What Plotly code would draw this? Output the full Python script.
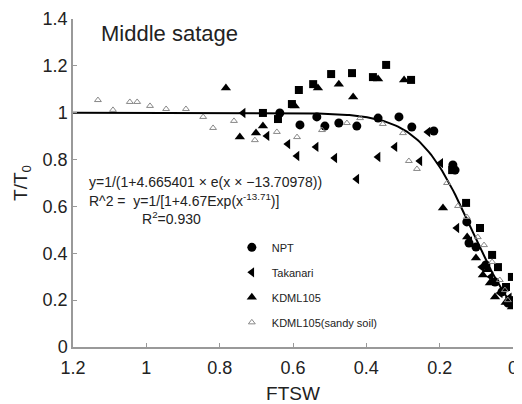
import numpy as np
import plotly.graph_objects as go

# fitted curve coefficients shown on the chart
fit_a = 4.665401
fit_b = -13.70978

# NPT (filled circles)
npt_x = [0.636, 0.581, 0.535, 0.513, 0.475, 0.426, 0.368, 0.311, 0.276, 0.216,
         0.164, 0.158, 0.126, 0.120, 0.101, 0.074, 0.049, 0.030, 0.014]
npt_y = [0.999, 0.948, 0.982, 0.943, 0.956, 0.943, 0.977, 0.982, 0.939, 0.922,
         0.777, 0.755, 0.534, 0.444, 0.427, 0.350, 0.277, 0.235, 0.188]

# Takanari (left triangles)
tak_x = [0.736, 0.671, 0.614, 0.589, 0.537, 0.486, 0.426, 0.368, 0.322, 0.254,
         0.232, 0.197, 0.153, 0.118, 0.085, 0.060, 0.035, 0.010]
tak_y = [0.999, 0.901, 0.866, 0.815, 0.854, 0.807, 0.717, 0.811, 0.854, 0.794,
         0.918, 0.785, 0.508, 0.450, 0.341, 0.300, 0.230, 0.210]

# KDML105 (filled triangles)
kdml_x = [0.783, 0.745, 0.701, 0.682, 0.595, 0.532, 0.475, 0.436, 0.368, 0.297,
          0.191, 0.125, 0.101, 0.082, 0.070, 0.063, 0.049, 0.020, 0.003]
kdml_y = [1.105, 0.896, 0.913, 0.943, 1.029, 1.105, 1.122, 1.067, 1.144, 1.140,
          0.593, 0.470, 0.380, 0.307, 0.330, 0.273, 0.213, 0.190, 0.171]

# KDML105 sandy soil (open triangles)
sandy_x = [1.132, 1.091, 1.045, 1.025, 0.990, 0.946, 0.892, 0.845, 0.818, 0.761,
           0.704, 0.644, 0.589, 0.521, 0.453, 0.417, 0.355, 0.300, 0.284, 0.262,
           0.180, 0.150, 0.126, 0.096, 0.079, 0.057, 0.036, 0.022, 0.014]
sandy_y = [1.054, 1.012, 1.046, 1.046, 1.029, 1.016, 1.016, 0.982, 0.935, 0.965,
           0.883, 0.918, 0.896, 0.926, 0.956, 0.977, 0.952, 0.913, 0.794, 0.760,
           0.700, 0.602, 0.555, 0.469, 0.435, 0.363, 0.286, 0.243, 0.200]

# squares (not in legend)
sq_x = [0.682, 0.641, 0.603, 0.584, 0.545, 0.496, 0.439, 0.382, 0.346, 0.278,
        0.166, 0.128, 0.090, 0.057, 0.041, 0.019, 0.003, 0.000]
sq_y = [0.999, 0.973, 1.037, 1.097, 1.122, 1.165, 1.169, 1.152, 1.204, 1.140,
        0.755, 0.615, 0.508, 0.393, 0.341, 0.256, 0.299, 0.200]

xtick_vals = [1.2, 1.0, 0.8, 0.6, 0.4, 0.2, 0.0]
xtick_text = ['1.2', '1', '0.8', '0.6', '0.4', '0.2', '0']
ytick_vals = [0, 0.2, 0.4, 0.6, 0.8, 1.0, 1.2, 1.4]
ytick_text = ['0', '0.2', '0.4', '0.6', '0.8', '1', '1.2', '1.4']

fx = np.linspace(1.2, 0, 200)
fy = 1 / (1 + fit_a * np.exp(fx * fit_b))

fig = go.Figure()
fig.add_trace(go.Scatter(x=fx, y=fy, mode='lines', line=dict(color='black', width=2),
                         showlegend=False, hoverinfo='skip'))
fig.add_trace(go.Scatter(x=sq_x, y=sq_y, mode='markers', name='square',
                         marker=dict(symbol='square', size=8, color='black'), showlegend=False))
fig.add_trace(go.Scatter(x=npt_x, y=npt_y, mode='markers', name='NPT', legendgroup='a',
                         marker=dict(symbol='circle', size=9, color='black')))
fig.add_trace(go.Scatter(x=tak_x, y=tak_y, mode='markers', name='Takanari', legendgroup='b',
                         marker=dict(symbol='triangle-left', size=9, color='black')))
fig.add_trace(go.Scatter(x=kdml_x, y=kdml_y, mode='markers', name='KDML105', legendgroup='c',
                         marker=dict(symbol='triangle-up', size=9, color='black')))
fig.add_trace(go.Scatter(x=sandy_x, y=sandy_y, mode='markers', name='KDML105(sandy soil)',
                         legendgroup='d',
                         marker=dict(symbol='triangle-up-open', size=6, color='#888888',
                                     line=dict(width=1))))

# page body has an 8px margin, so the figure is shrunk and margins shifted
axis_font = dict(family='Liberation Sans, Arial', size=18, color='#222222')
fig.update_layout(
    width=514, height=396,
    margin=dict(l=65, r=9, t=11, b=57),
    plot_bgcolor='white', paper_bgcolor='white',
    font=dict(family='Liberation Sans, Arial', color='#222222'),
    xaxis=dict(range=[1.2, 0], tickvals=xtick_vals, ticktext=xtick_text, automargin=False,
               showgrid=False, zeroline=False, showline=True, linecolor='#999999', linewidth=1.5,
               ticks='inside', ticklen=4, tickcolor='#999999', tickfont=axis_font,
               ticklabelstandoff=4,
               title=dict(text='FTSW', font=dict(size=19, color='#222222'), standoff=9)),
    yaxis=dict(range=[0, 1.4], tickvals=ytick_vals, ticktext=ytick_text, automargin=False,
               showgrid=False, zeroline=False, showline=True, linecolor='#999999', linewidth=1.5,
               ticks='inside', ticklen=4, tickcolor='#999999', tickfont=axis_font,
               title=dict(text='T/T<sub>0</sub>', font=dict(size=19, color='#222222'), standoff=10)),
    legend=dict(x=0.361, y=0.348, xanchor='left', yanchor='top', tracegroupgap=6,
                font=dict(size=11, color='#222222'), bgcolor='rgba(0,0,0,0)'),
    annotations=[
        dict(text='Middle satage', x=0.06, y=0.957, xref='paper', yref='paper',
             xanchor='left', yanchor='middle', showarrow=False, font=dict(size=22)),
        dict(text='y=1/(1+4.665401 × e(x × −13.70978))', x=0.032, y=0.503,
             xref='paper', yref='paper', xanchor='left', yanchor='middle',
             showarrow=False, font=dict(size=14)),
        dict(text='R^2 =  y=1/[1+4.67Exp(x<sup>-13.71</sup>)]', x=0.032, y=0.448,
             xref='paper', yref='paper', xanchor='left', yanchor='middle',
             showarrow=False, font=dict(size=14)),
        dict(text='R<sup>2</sup>=0.930', x=0.152, y=0.393,
             xref='paper', yref='paper', xanchor='left', yanchor='middle',
             showarrow=False, font=dict(size=14)),
    ],
)

fig.write_html("out.html")
